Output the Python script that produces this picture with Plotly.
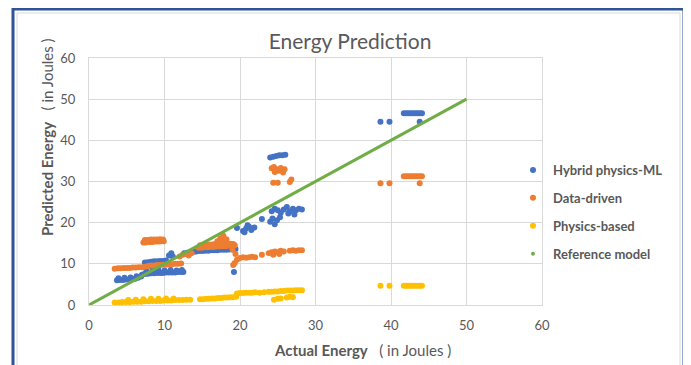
import plotly.graph_objects as go

# ---------------- data ----------------
hybrid_x = [3.7, 4.1, 4.5, 4.9, 5.3, 5.7, 6.1, 6.5, 6.9,
            3.9, 4.7, 5.5, 6.3, 7.1,
            7.0, 7.4, 7.8, 8.2, 8.6, 9.0, 9.4, 9.8, 10.2, 10.6, 11.0, 11.4, 11.8, 12.2, 12.5,
            7.6, 8.4, 9.2, 10.0, 10.8, 11.6, 12.3,
            7.4, 7.8, 8.2, 8.6, 9.0, 9.4, 9.8, 10.2, 8.3, 8.8,
            10.6, 10.9, 11.1, 12.6, 13.0, 13.4, 13.8, 14.2, 14.6, 15.0, 15.4, 15.8, 16.2, 16.6,
            17.0, 17.4, 17.8, 18.2, 18.6, 19.0, 19.4,
            19.2, 19.6, 20.4, 20.6, 20.8, 21.0, 21.2, 21.5, 21.9,
            22.9, 24.0, 24.3, 24.6, 24.9, 25.3,
            24.2, 24.6, 25.0, 25.4, 25.8, 26.2, 26.6, 27.0, 27.4, 27.8, 28.2, 26.4, 27.2,
            24.0, 24.4, 24.8, 25.2, 25.6, 26.0,
            38.6, 39.8, 41.7, 42.0, 42.3, 42.6, 42.9, 43.2, 43.5, 43.8, 44.1, 43.8]
hybrid_y = [6.0, 6.1, 6.1, 6.2, 6.2, 6.3, 6.4, 6.6, 6.9,
            6.5, 6.6, 6.7, 7.0, 7.4,
            7.3, 7.5, 7.6, 7.7, 7.7, 7.8, 7.8, 7.8, 7.9, 7.9, 7.9, 7.9, 8.0, 8.0, 8.0,
            8.2, 8.4, 8.5, 8.4, 8.5, 8.4, 8.5,
            10.3, 10.4, 10.5, 10.6, 10.6, 10.7, 10.7, 10.8, 9.3, 9.0,
            12.0, 12.6, 11.8, 12.6, 12.7, 12.8, 12.9, 13.0, 13.1, 13.1, 13.2, 13.2, 13.3, 13.3,
            13.3, 13.4, 13.4, 13.4, 13.5, 13.5, 13.6,
            8.0, 18.7, 18.0, 17.7, 18.6, 19.4, 19.0, 18.2, 18.8,
            20.9, 20.2, 21.0, 19.6, 20.6, 21.3,
            22.8, 23.4, 23.0, 22.4, 23.2, 23.8, 22.8, 23.4, 23.0, 23.4, 23.2, 22.2, 22.0,
            35.8, 36.0, 36.2, 36.4, 36.4, 36.5,
            44.5, 44.5, 46.6, 46.6, 46.6, 46.6, 46.6, 46.6, 46.6, 46.6, 46.6, 44.5]

data_x = [3.4, 3.8, 4.2, 4.6, 5.0, 5.4, 5.8, 6.2, 6.6, 7.0, 7.4,
          7.8, 8.2, 8.6, 9.0, 9.4, 9.8, 10.2, 10.6, 11.0, 11.4, 11.8, 12.2,
          7.2, 7.5, 7.8, 8.1, 8.4, 8.7, 9.0, 9.3, 9.6, 9.9,
          7.4, 7.8, 8.2, 8.6, 9.0, 9.4, 9.8,
          12.0, 12.4, 12.8, 13.2, 13.6,
          14.5, 14.9, 15.3, 15.7, 16.1, 16.5, 16.9, 17.3, 17.7, 18.1, 18.5, 18.9, 19.3,
          14.7, 15.1, 15.5, 15.9, 16.3, 16.7, 17.1, 17.5, 17.9, 18.3, 18.7, 19.1,
          17.0, 17.4, 17.6, 17.8, 18.2,
          19.1, 19.3, 19.0, 19.4,
          19.6, 20.0, 20.4, 20.8, 21.2, 21.6, 22.0, 22.9,
          23.8, 24.2, 24.4, 24.6, 25.0, 25.2, 25.4, 25.8, 26.6, 27.0, 27.4, 27.8, 28.2,
          24.2, 24.5, 24.8, 25.1, 25.4, 25.7, 24.6, 25.9,
          24.4, 25.0, 26.6, 26.8,
          38.6, 39.8, 41.7, 42.0, 42.3, 42.6, 42.9, 43.2, 43.5, 43.8, 44.1, 43.8]
data_y = [8.8, 8.9, 8.9, 9.0, 9.0, 9.0, 9.1, 9.1, 9.2, 9.2, 9.3,
          9.5, 9.6, 9.6, 9.7, 9.7, 9.8, 9.8, 9.9, 9.9, 10.0, 10.0, 10.1,
          15.2, 15.2, 15.3, 15.3, 15.3, 15.4, 15.4, 15.4, 15.5, 15.5,
          15.8, 15.8, 15.9, 15.9, 15.9, 16.0, 15.9,
          11.8, 12.2, 12.4, 12.0, 12.6,
          13.9, 13.9, 14.0, 14.0, 14.1, 14.1, 14.2, 14.2, 14.3, 14.3, 14.4, 14.4, 14.5,
          14.5, 14.6, 14.6, 14.7, 14.7, 14.8, 15.0, 15.2, 15.1, 15.0, 14.9, 14.8,
          15.5, 16.2, 15.8, 16.8, 16.0,
          9.7, 10.2, 13.5, 12.4,
          11.0, 11.4, 11.6, 11.5, 11.6, 11.7, 11.6, 12.2,
          12.6, 12.8, 12.2, 13.0, 12.8, 12.4, 13.2, 13.0, 13.2, 13.3, 13.2, 13.3, 13.3,
          33.2, 33.5, 33.0, 32.6, 33.3, 32.2, 32.3, 33.0,
          29.7, 29.7, 29.9, 30.5,
          29.6, 29.6, 31.3, 31.3, 31.3, 31.3, 31.3, 31.3, 31.3, 31.3, 31.3, 29.6]

phys_x = [3.4, 3.9, 4.4, 4.9, 5.4, 5.9, 6.4, 6.9, 7.4, 7.9, 8.4, 8.9, 9.4, 9.9, 10.4, 10.9, 11.4, 11.9, 12.4,
          5.2, 6.2, 7.2, 8.2, 9.2, 10.2, 11.2,
          12.9, 13.4, 14.7, 15.1, 15.5, 15.9, 16.3, 16.7, 17.1, 17.5, 17.9, 18.3, 18.7, 19.1, 19.5,
          19.6, 20.0, 20.4, 20.8, 21.2, 21.6, 22.0, 22.6, 23.2, 23.8, 24.2, 24.6, 25.0,
          25.4, 25.8, 26.2, 26.6, 27.0, 27.4, 27.8, 28.2,
          24.5, 25.0, 25.4, 26.2, 26.6, 27.0,
          38.6, 39.8, 41.7, 42.0, 42.3, 42.6, 42.9, 43.2, 43.5, 43.8, 44.1]
phys_y = [0.6, 0.6, 0.7, 0.7, 0.7, 0.8, 0.8, 0.8, 0.9, 0.9, 1.0, 1.0, 1.0, 1.1, 1.1, 1.1, 1.2, 1.2, 1.2,
          1.2, 1.3, 1.4, 1.5, 1.5, 1.6, 1.6,
          1.3, 1.3, 1.4, 1.4, 1.5, 1.5, 1.6, 1.6, 1.7, 1.7, 1.8, 1.8, 1.9, 1.9, 2.0,
          2.8, 2.9, 2.9, 3.0, 3.0, 3.0, 3.1, 3.0, 3.1, 3.2, 3.2, 3.3, 3.3,
          3.4, 3.4, 3.5, 3.5, 3.5, 3.6, 3.6, 3.6,
          1.3, 1.5, 1.6, 1.8, 2.0, 1.9,
          4.7, 4.7, 4.7, 4.7, 4.7, 4.7, 4.7, 4.7, 4.7, 4.7, 4.7]

ref_x = [0, 50]
ref_y = [0, 50]

axis_ticks = [0, 10, 20, 30, 40, 50, 60]
series_names = ["Hybrid physics-ML", "Data-driven", "Physics-based", "Reference model"]
colors = ["#4472C4", "#ED7D31", "#FFC000", "#70AD47"]

# ---------------- figure ----------------
fig = go.Figure()
for i, (xs, ys) in enumerate([(hybrid_x, hybrid_y), (data_x, data_y), (phys_x, phys_y)]):
    fig.add_trace(go.Scatter(x=xs, y=ys, mode="markers", name=series_names[i],
                             legendgroup=series_names[i],
                             marker=dict(size=6, color=colors[i])))
fig.add_trace(go.Scatter(x=ref_x, y=ref_y, mode="lines", showlegend=False,
                         line=dict(color=colors[3], width=3)))
fig.add_trace(go.Scatter(x=[None], y=[None], mode="markers", name=series_names[3],
                         legendgroup=series_names[3],
                         marker=dict(size=4, color=colors[3])))

grid = "#D9D9D9"
txt = "#595959"
font_family = "Lato, 'Open Sans', sans-serif"

# page has an 8px body margin: figure is drawn at page offset (8, 8)
W, H = 683, 357
L, T = 81, 50          # plot area top-left inside the figure
PW, PH = 453, 247      # plot area size
OFF = 8


def px(page_x):
    return (page_x - OFF - L) / PW


def py(page_y):
    return (T + PH - (page_y - OFF)) / PH


fig.update_layout(
    width=W, height=H,
    margin=dict(l=L, r=W - L - PW, t=T, b=H - T - PH),
    paper_bgcolor="white", plot_bgcolor="white",
    font=dict(family=font_family, color=txt),
    title=dict(text="Energy Prediction", x=(350 - OFF) / W, xanchor="center", xref="container",
               y=1 - (42 - OFF) / H, yanchor="middle", yref="container",
               font=dict(size=21, color=txt, family=font_family)),
    showlegend=True,
    legend=dict(x=px(513), xanchor="left", y=py(155), yanchor="top",
                bgcolor="rgba(0,0,0,0)", tracegroupgap=8, traceorder="grouped",
                font=dict(size=13, color=txt, family=font_family, weight="bold")),
    xaxis=dict(range=[0, 60], tickvals=axis_ticks, showgrid=True, gridcolor=grid,
               zeroline=False, showline=True, linecolor=grid, mirror=True,
               ticks="", ticklabelstandoff=8,
               tickfont=dict(size=13, color=txt)),
    yaxis=dict(range=[0, 60], tickvals=axis_ticks, showgrid=True, gridcolor=grid,
               zeroline=False, showline=True, linecolor=grid, mirror=True,
               ticks="", ticklabelstandoff=10,
               tickfont=dict(size=13, color=txt)),
    annotations=[
        dict(text="<b>Actual Energy</b>   ( in Joules )", xref="paper", yref="paper",
             x=px(362), y=py(350), xanchor="center", yanchor="middle",
             showarrow=False, font=dict(size=15, color=txt)),
        dict(text="<b>Predicted Energy</b>   ( in Joules )", xref="paper", yref="paper",
             x=px(47), y=py(137), xanchor="center", yanchor="middle",
             textangle=-90, showarrow=False, font=dict(size=15, color=txt)),
    ],
    shapes=[
        dict(type="rect", xref="paper", yref="paper",
             x0=px(17), x1=px(680), y0=py(390), y1=py(13),
             line=dict(color="#D9D9D9", width=1), layer="below"),
        dict(type="rect", xref="paper", yref="paper",
             x0=px(13), x1=px(684), y0=py(390), y1=py(9),
             line=dict(color="#2F5597", width=3)),
    ],
)

fig.write_html("out.html")
